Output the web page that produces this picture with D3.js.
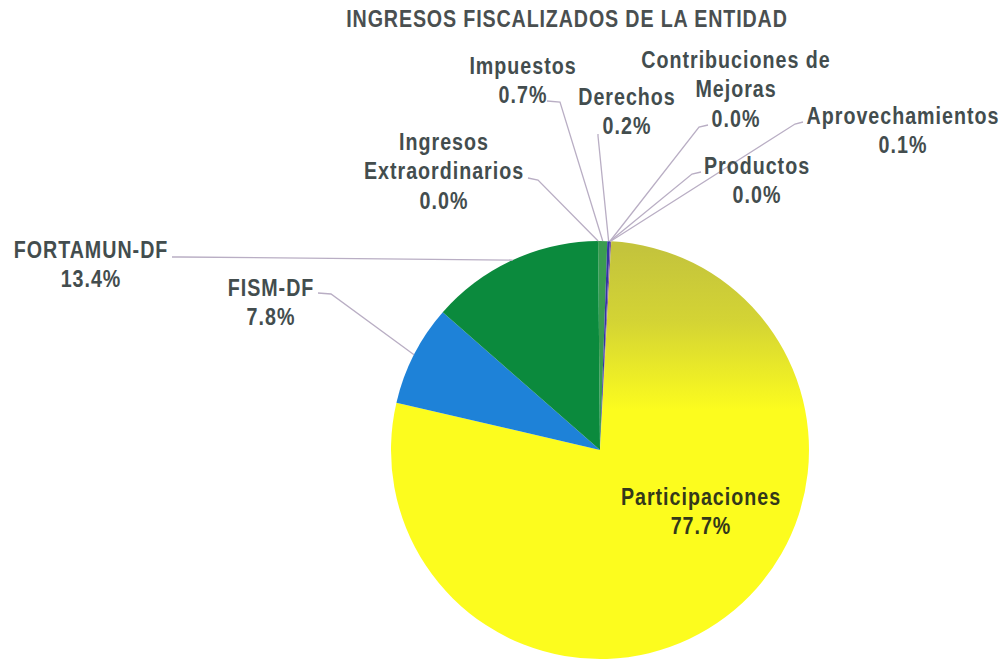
<!DOCTYPE html>
<html>
<head>
<meta charset="utf-8">
<script src="https://cdn.jsdelivr.net/npm/d3@7"></script>
<style>
  body { margin: 0; background: #fff; }
  text { font-family: "Liberation Sans", Arial, sans-serif; font-weight: bold; }
</style>
</head>
<body>
<div id="chart-area"></div>
<script>
// datos del grafico (porcentajes)
let categorias = ["Impuestos", "Derechos", "Contribuciones de Mejoras", "Productos", "Aprovechamientos",
	"Participaciones", "FISM-DF", "FORTAMUN-DF", "Ingresos Extraordinarios"];
let valores = [0.7, 0.2, 0.0, 0.0, 0.1, 77.7, 7.8, 13.4, 0.0];
let etiquetas = ["0.7%", "0.2%", "0.0%", "0.0%", "0.1%", "77.7%", "7.8%", "13.4%", "0.0%"];
let titulo = "INGRESOS FISCALIZADOS DE LA ENTIDAD";

let colores = ["#3a9c50", "#3434a4", "#8080c0", "#a0a040", "#7a5aa0", "url(#gradPart)", "#1e82d8", "#0b8a3d", "#60a060"];

// lineas de texto de cada etiqueta (nombre partido + porcentaje)
let lineasNombre = [
	["Impuestos"], ["Derechos"], ["Contribuciones de", "Mejoras"], ["Productos"], ["Aprovechamientos"],
	["Participaciones"], ["FISM-DF"], ["FORTAMUN-DF"], ["Ingresos", "Extraordinarios"]
];

// layout: x centro, y primera linea base, arranque de la guia, codo
let posEtiqueta = [
	{x: 523, y: 74, ancla: [547, 101], codo: [560, 102]},
	{x: 627, y: 105, ancla: [598, 134], codo: [598, 136]},
	{x: 736, y: 68, ancla: [708, 125], codo: [699, 127]},
	{x: 757, y: 174, ancla: [701, 172], codo: [692, 174]},
	{x: 903, y: 124, ancla: [803, 122], codo: [795, 124]},
	{x: 701, y: 505, ancla: null},
	{x: 271, y: 296, ancla: [318, 293], codo: [331, 294]},
	{x: 91, y: 258, ancla: [172, 257], codo: [180, 257]},
	{x: 444, y: 150, ancla: [528, 178], codo: [538, 180]}
];

let width = 1005, height = 660;
let cx = 600, cy = 450, radio = 209;
let angosto = 0.82;  // simula fuente narrow

let svg = d3.select("#chart-area").append("svg")
	.attr("width", width)
	.attr("height", height);

// degradado de participaciones (coordenadas relativas al centro)
let grad = svg.append("defs").append("linearGradient")
	.attr("id", "gradPart")
	.attr("gradientUnits", "userSpaceOnUse")
	.attr("x1", 0).attr("y1", -200).attr("x2", 0).attr("y2", -40);
grad.append("stop").attr("offset", "0%").attr("stop-color", "#c4c43c");
grad.append("stop").attr("offset", "45%").attr("stop-color", "#d4d434");
grad.append("stop").attr("offset", "100%").attr("stop-color", "#fcfc1e");

svg.append("text")
	.attr("transform", "translate(567,27) scale(" + angosto + ",1)")
	.attr("text-anchor", "middle")
	.style("font-size", "24px")
	.style("letter-spacing", "1.05px")
	.style("fill", "#4a4f50")
	.text(titulo);

let pie = d3.pie().sort(null).value(d => d).startAngle(-0.009).endAngle(2 * Math.PI - 0.009);
let arcos = pie(valores);

let arc = d3.arc().innerRadius(0).outerRadius(radio);
let arcBorde = d3.arc().innerRadius(radio).outerRadius(radio);

let g = svg.append("g").attr("transform", "translate(" + cx + "," + cy + ")");

g.selectAll("path")
	.data(arcos)
	.enter().append("path")
	.attr("d", arc)
	.attr("fill", (d, i) => colores[i]);

// lineas guia
svg.selectAll(".guia")
	.data(arcos.filter(d => posEtiqueta[d.index].ancla))
	.enter().append("polyline")
	.attr("class", "guia")
	.attr("points", (d) => {
		let p = posEtiqueta[d.index];
		let c = arcBorde.centroid(d);
		return [p.ancla, p.codo, [c[0] + cx, c[1] + cy]].map(q => q.join(",")).join(" ");
	})
	.attr("fill", "none")
	.attr("stroke", "#b9aec4")
	.attr("stroke-width", 1.3);

// etiquetas
let etq = svg.selectAll(".etq")
	.data(arcos)
	.enter().append("text")
	.attr("class", "etq")
	.attr("transform", d => "translate(" + posEtiqueta[d.index].x + "," + posEtiqueta[d.index].y + ") scale(" + angosto + ",1)")
	.attr("text-anchor", "middle")
	.style("font-size", "24px")
	.style("letter-spacing", "1.2px")
	.style("fill", (d, i) => i === 5 ? "#33381a" : "#434d4e");

etq.selectAll("tspan")
	.data(d => lineasNombre[d.index].concat([etiquetas[d.index]]))
	.enter().append("tspan")
	.attr("x", 0)
	.attr("y", (d, j) => j * 29.5)
	.text(d => d);
</script>
</body>
</html>
